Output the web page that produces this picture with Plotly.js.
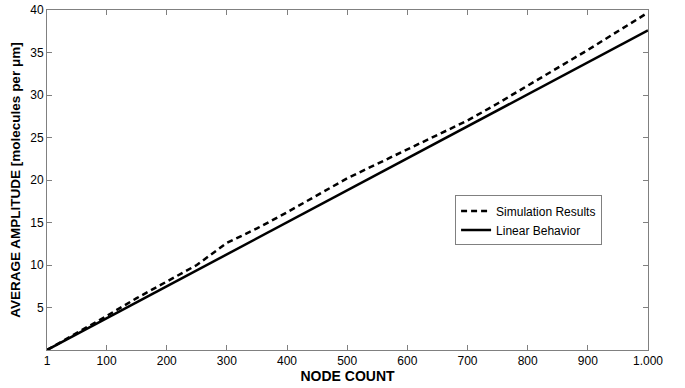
<!DOCTYPE html>
<html>
<head>
<meta charset="utf-8">
<script src="https://cdn.plot.ly/plotly-3.0.1.min.js"></script>
<style>html,body{margin:0;padding:0;background:#fff;}</style>
</head>
<body>
<div id="chart" style="width:685px;height:388px;"></div>
<script>
var simNodes = [1, 50, 100, 150, 200, 250, 300, 350, 400, 450, 500, 600, 700, 750, 800, 900, 1000];
var simAmp   = [0, 1.95, 4.0, 6.1, 8.0, 10.0, 12.6, 14.3, 16.2, 18.2, 20.2, 23.6, 27.0, 29.0, 31.1, 35.3, 39.7];
var linNodes = [1, 1000];
var linAmp   = [0, 37.6];
var xTickVals = [1, 100, 200, 300, 400, 500, 600, 700, 800, 900, 1000];
var xTickText = ['1', '100', '200', '300', '400', '500', '600', '700', '800', '900', '1.000'];
var yTickVals = [5, 10, 15, 20, 25, 30, 35, 40];
var yTickText = ['5', '10', '15', '20', '25', '30', '35', '40'];

var FONT = "'Liberation Sans', Arial, sans-serif";

var traces = [
  {x: simNodes, y: simAmp, mode: 'lines', name: 'Simulation Results',
   line: {color: '#000', width: 2.5, dash: '6px,4px'}},
  {x: linNodes, y: linAmp, mode: 'lines', name: 'Linear Behavior',
   line: {color: '#000', width: 2.5}}
];

var axisCommon = {
  showgrid: false, zeroline: false, showline: true, linecolor: '#808080', linewidth: 1,
  mirror: 'ticks', ticks: 'inside', ticklen: 5, tickcolor: '#808080', tickwidth: 1,
  tickfont: {family: FONT, size: 12, color: '#000'}
};

var layout = {
  width: 685, height: 388,
  margin: {l: 47, r: 37, t: 10, b: 38},
  paper_bgcolor: '#fff', plot_bgcolor: '#fff',
  showlegend: true,
  legend: {x: 0.679, y: 0.381, xanchor: 'left', yanchor: 'middle',
    bgcolor: '#fff', bordercolor: '#808080', borderwidth: 1,
    font: {family: FONT, size: 12, color: '#000'},
    tracegroupgap: 0},
  xaxis: Object.assign({}, axisCommon, {
    range: [1, 1000], tickmode: 'array', tickvals: xTickVals, ticktext: xTickText,
    title: {text: 'NODE COUNT', standoff: 2,
      font: {family: FONT, size: 14, color: '#000', weight: 'bold'}}
  }),
  yaxis: Object.assign({}, axisCommon, {
    range: [0, 40], tickmode: 'array', tickvals: yTickVals, ticktext: yTickText,
    title: {text: 'AVERAGE AMPLITUDE [molecules per μm]', standoff: 6,
      font: {family: FONT, size: 13.5, color: '#000', weight: 'bold'}}
  })
};

Plotly.newPlot('chart', traces, layout, {displayModeBar: false, staticPlot: true});
</script>
</body>
</html>
